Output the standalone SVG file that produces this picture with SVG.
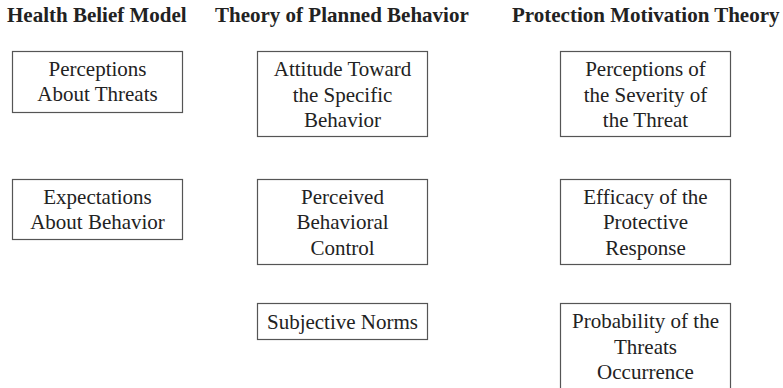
<svg xmlns="http://www.w3.org/2000/svg" width="783" height="388" viewBox="0 0 783 388">
<style>
.box{fill:#fff;stroke:#555;stroke-width:1.2}
.title{font-family:"Liberation Serif","Times New Roman",serif;font-size:21px;font-weight:bold;fill:#222}
.lbl{font-family:"Liberation Serif","Times New Roman",serif;font-size:21px;fill:#222;text-anchor:middle}
</style>
<rect width="783" height="388" fill="#fff"/>
<text class="title" x="7" y="22">Health Belief Model</text>
<text class="title" x="215" y="22">Theory of Planned Behavior</text>
<text class="title" x="512" y="22">Protection Motivation Theory</text>
<g id="hbm1"><rect class="box" x="12.5" y="51.5" width="170" height="61"/><text class="lbl" x="97.5" y="76">Perceptions</text><text class="lbl" x="97.5" y="101">About Threats</text></g>
<g id="hbm2"><rect class="box" x="12.5" y="179.5" width="170" height="60"/><text class="lbl" x="97.5" y="204">Expectations</text><text class="lbl" x="97.5" y="229">About Behavior</text></g>
<g id="tpb1"><rect class="box" x="257.5" y="51.5" width="170" height="85"/><text class="lbl" x="342.5" y="76">Attitude Toward</text><text class="lbl" x="342.5" y="101.5">the Specific</text><text class="lbl" x="342.5" y="127">Behavior</text></g>
<g id="tpb2"><rect class="box" x="257.5" y="179.5" width="170" height="85"/><text class="lbl" x="342.5" y="203.5">Perceived</text><text class="lbl" x="342.5" y="229">Behavioral</text><text class="lbl" x="342.5" y="255">Control</text></g>
<g id="tpb3"><rect class="box" x="257.5" y="303.5" width="170" height="36"/><text class="lbl" x="342.5" y="329">Subjective Norms</text></g>
<g id="pmt1"><rect class="box" x="560.5" y="51.5" width="170" height="85"/><text class="lbl" x="645.5" y="76">Perceptions of</text><text class="lbl" x="645.5" y="101.5">the Severity of</text><text class="lbl" x="645.5" y="127">the Threat</text></g>
<g id="pmt2"><rect class="box" x="560.5" y="179.5" width="170" height="85"/><text class="lbl" x="645.5" y="203.5">Efficacy of the</text><text class="lbl" x="645.5" y="229">Protective</text><text class="lbl" x="645.5" y="255">Response</text></g>
<g id="pmt3"><rect class="box" x="560.5" y="303.5" width="170" height="100"/><text class="lbl" x="645.5" y="328">Probability of the</text><text class="lbl" x="645.5" y="354">Threats</text><text class="lbl" x="645.5" y="379">Occurrence</text></g>
<g id="connectors"></g>
</svg>
